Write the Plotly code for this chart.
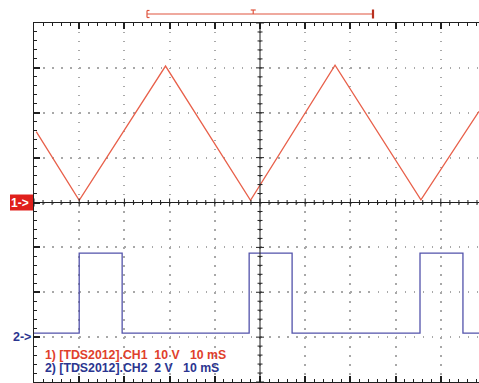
import plotly.graph_objects as go

# ---- oscilloscope settings ----
time_per_div = 10.0     # ms / div
ch1_scale = 10.0        # V / div
ch1_pos = 0.0           # div (ground marker position)
ch2_scale = 2.0         # V / div
ch2_pos = -3.0          # div

# ---- CH1: triangle wave (ms, V) ----
ch1_t = [0.5, 10.0, 29.1, 47.9, 66.6, 85.6, 98.45]
ch1_v = [15.8, 0.5, 30.4, 0.5, 30.6, 0.6, 20.3]

# ---- CH2: pulse train (ms, V), step held until next time ----
ch2_t = [0.0, 10.0, 19.5, 47.6, 57.1, 85.4, 94.9, 98.45]
ch2_v = [0.18, 3.74, 0.18, 3.74, 0.18, 3.74, 0.18, 0.18]

legend_lines = ["1) [TDS2012].CH1  10 V   10 mS",
                "2) [TDS2012].CH2  2 V   10 mS"]
legend_colors = ["#e0402c", "#2b3590"]

# horizontal position indicator (ms)
hpos_start, hpos_trig, hpos_end = 25.0, 48.5, 75.0

X_MAX = 98.45
N_XDIV, N_YDIV = 10, 8

ch1_y = [v / ch1_scale + ch1_pos for v in ch1_v]
ch2_y = [v / ch2_scale + ch2_pos for v in ch2_v]

fig = go.Figure()
fig.add_trace(go.Scatter(x=ch1_t, y=ch1_y, mode="lines",
                         line=dict(color="#e8604a", width=1.3),
                         hoverinfo="skip", showlegend=False))
fig.add_trace(go.Scatter(x=ch2_t, y=ch2_y, mode="lines", line_shape="hv",
                         line=dict(color="#5252aa", width=1.3),
                         hoverinfo="skip", showlegend=False))

shapes = []
BLK = "#202020"
# centre cross axes
shapes.append(dict(type="line", xref="x", yref="paper", x0=50, x1=50, y0=0, y1=1,
                   line=dict(color=BLK, width=1)))
shapes.append(dict(type="line", xref="paper", yref="y", x0=0, x1=1, y0=0, y1=0,
                   line=dict(color=BLK, width=1)))
# ticks on centre vertical axis
for k in range(N_YDIV * 5 + 1):
    yv = -4 + 0.2 * k
    L = 4 if k % 5 == 0 else 2.5
    shapes.append(dict(type="line", xref="x", yref="y", xsizemode="pixel", xanchor=50,
                       x0=-L, x1=L, y0=yv, y1=yv, line=dict(color=BLK, width=1)))
# ticks on centre horizontal axis
for k in range(N_XDIV * 5):
    xv = 2.0 * k
    if xv > X_MAX:
        break
    L = 4 if k % 5 == 0 else 2.5
    shapes.append(dict(type="line", xref="x", yref="y", ysizemode="pixel", yanchor=0,
                       y0=-L, y1=L, x0=xv, x1=xv, line=dict(color=BLK, width=1)))

# horizontal position indicator above the graticule
RED = "#e0553f"
def topline(x0, x1, y0, y1, color=RED, width=1.2, xpix=False, xa=None):
    d = dict(type="line", xref="x", yref="paper", ysizemode="pixel", yanchor=1,
             x0=x0, x1=x1, y0=y0, y1=y1, line=dict(color=color, width=width))
    if xpix:
        d.update(xsizemode="pixel", xanchor=xa)
    return d

shapes.append(topline(hpos_start, hpos_end, 9, 9))
shapes.append(topline(hpos_start, hpos_start, 5.5, 12.5))
shapes.append(topline(0, 2.5, 12.5, 12.5, xpix=True, xa=hpos_start))
shapes.append(topline(0, 2.5, 5.5, 5.5, xpix=True, xa=hpos_start))
shapes.append(topline(hpos_trig, hpos_trig, 9, 13))
shapes.append(topline(-2.5, 2.5, 13, 13, xpix=True, xa=hpos_trig))
shapes.append(topline(hpos_end, hpos_end, 4.5, 13.5, color="#b8301f", width=2.2))

# CH1 ground marker box
shapes.append(dict(type="rect", xref="paper", yref="y", xsizemode="pixel", xanchor=0,
                   ysizemode="pixel", yanchor=ch1_pos, x0=-24, x1=-1, y0=-8, y1=8,
                   fillcolor="#e0201c", line=dict(width=0)))

FONT = "Liberation Sans, Arial"
annotations = [
    dict(text="<b>1-&gt;</b>", xref="paper", yref="y", x=0, y=ch1_pos, xanchor="right",
         yanchor="middle", xshift=-3, showarrow=False,
         font=dict(family=FONT, size=12, color="white")),
    dict(text="<b>2-&gt;</b>", xref="paper", yref="y", x=0, y=ch2_pos, xanchor="right",
         yanchor="middle", xshift=-1, showarrow=False,
         font=dict(family=FONT, size=12.5, color="#2b3590")),
]
legend_y = [-3.39, -3.68]
for txt, col, yv in zip(legend_lines, legend_colors, legend_y):
    annotations.append(dict(text="<b>" + txt.replace(" ", "\u00a0") + "</b>",
                            xref="paper", yref="y", x=0, y=yv, xanchor="left",
                            yanchor="middle", xshift=9, showarrow=False,
                            font=dict(family=FONT, size=12.3, color=col)))

fig.update_layout(
    width=479, height=383,
    margin=dict(l=34, r=0, t=23, b=1, pad=0),
    paper_bgcolor="white", plot_bgcolor="white",
    shapes=shapes, annotations=annotations,
    showlegend=False,
    xaxis=dict(range=[0, X_MAX], side="top", showline=True, linecolor=BLK, linewidth=1,
               mirror="ticks", ticks="inside", tickmode="linear", tick0=0,
               dtick=time_per_div, ticklen=6, tickcolor=BLK, tickwidth=1.5,
               showticklabels=False, zeroline=False,
               showgrid=True, gridcolor="#a8a8a8", gridwidth=1.5,
               griddash="1.5px,7.475px",
               minor=dict(ticks="inside", dtick=time_per_div / 5, tick0=0, ticklen=3,
                          tickcolor=BLK, tickwidth=1, showgrid=False),
               fixedrange=True),
    yaxis=dict(range=[-N_YDIV / 2, N_YDIV / 2], showline=True, linecolor=BLK, linewidth=1,
               mirror=False, ticks="inside", tickmode="linear", tick0=0, dtick=1,
               ticklen=6, tickcolor=BLK, tickwidth=1.5, showticklabels=False,
               zeroline=False, showgrid=True, gridcolor="#a8a8a8", gridwidth=1.5,
               griddash="1.5px,7.54px",
               minor=dict(ticks="inside", dtick=0.2, tick0=0, ticklen=3,
                          tickcolor=BLK, tickwidth=1, showgrid=False),
               fixedrange=True),
)

fig.write_html("out.html", config={"displayModeBar": False})
